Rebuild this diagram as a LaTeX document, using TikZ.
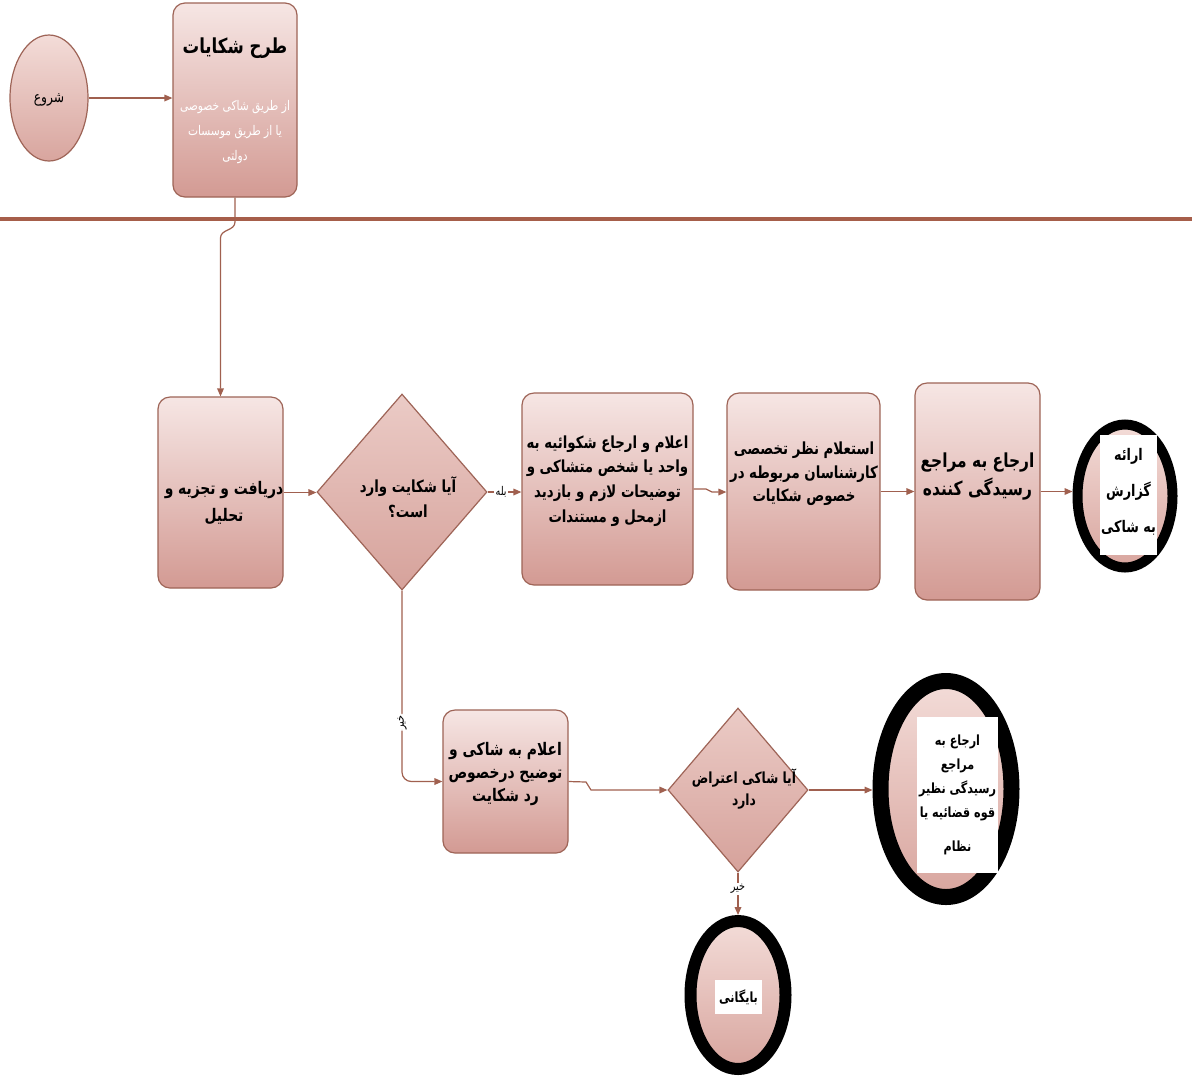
\documentclass[tikz,border=0pt]{standalone}
\usepackage{fontspec}
\usetikzlibrary{shapes.geometric,arrows.meta,calc}
\TeXXeTstate=1
\newfontfamily\arabicfont[Script=Arabic,FakeStretch=0.8]{DejaVu Sans}
\newcommand\fl[1]{\beginR #1\endR}
\definecolor{boxtop}{HTML}{F6E6E4}
\definecolor{boxbot}{HTML}{D39A93}
\definecolor{dtop}{HTML}{EBCBC6}
\definecolor{dbot}{HTML}{D6A29B}
\definecolor{etop}{HTML}{F3DCD8}
\definecolor{ebot}{HTML}{D8A59E}
\definecolor{edge}{HTML}{9E6457}
\definecolor{conn}{HTML}{A0604F}
\definecolor{rulec}{HTML}{A65E4A}
\begin{document}
\begin{tikzpicture}[x=0.75pt,y=-0.75pt,
 procbox/.style={draw=edge, line width=0.9pt, rounded corners=9pt, top color=boxtop, bottom color=boxbot, inner sep=0pt},
 decbox/.style={diamond, draw=edge, line width=0.9pt, top color=dtop, bottom color=dbot, inner sep=0pt},
 endell/.style={ellipse, draw=black, top color=etop, bottom color=ebot, inner sep=0pt},
 whitebox/.style={fill=white, draw=none, inner sep=0pt},
 lbl/.style={align=center, text=black, inner sep=1pt},
 flow/.style={draw=conn, line width=0.9pt, -{Triangle[length=6pt,width=5pt]}},
 link/.style={draw=conn, line width=0.9pt},
 tag/.style={fill=white, inner sep=1pt, text=black, font=\arabicfont\fontsize{9}{10}\selectfont},
]
\useasboundingbox (0,0) rectangle (1192,1083);
\fill[white] (0,0) rectangle (1192,1083);

% divider
\draw[rulec, line width=2.4pt] (0,219) -- (1192,219);

% start
\node[endell, draw=edge, line width=0.9pt, minimum width=58.5pt, minimum height=94.5pt] (S) at (49,98) {};
\node[lbl, font=\arabicfont\fontsize{11.5}{12}\selectfont] (Stxt) at (49,100) {\fl{شروع}};

% title box
\node[procbox, minimum width=93pt, minimum height=145.5pt] (T) at (235,100) {};
\node[lbl, font=\arabicfont\bfseries\fontsize{15.5}{18}\selectfont] (Ttitle) at (235,48) {\fl{طرح شکایات}};
\node[lbl, text=white, font=\arabicfont\fontsize{10}{18.5}\selectfont] (Tsub) at (235,132) {\fl{از طریق شاکی خصوصی}\\\fl{یا از طریق موسسات}\\\fl{دولتی}};

% row 1
\node[procbox, minimum width=93.75pt, minimum height=143.25pt] (R) at (220.5,492.5) {};
\node[lbl, font=\arabicfont\bfseries\fontsize{13}{20}\selectfont] (Rtxt) at (224,503) {\fl{دریافت و تجزیه و}\\\fl{تحلیل}};

\node[decbox, minimum width=127.5pt, minimum height=147pt] (D1) at (402,492) {};
\node[lbl, font=\arabicfont\bfseries\fontsize{12.5}{19}\selectfont] (D1txt) at (408,497) {\fl{آیا شکایت وارد}\\\fl{است؟}};

\node[procbox, minimum width=128.25pt, minimum height=144pt] (A) at (607.5,489) {};
\node[lbl, font=\arabicfont\bfseries\fontsize{12.5}{18.5}\selectfont] (Atxt) at (607.5,481) {\fl{اعلام و ارجاع شکوائیه به}\\\fl{واحد یا شخص متشاکی و}\\\fl{توضیحات لازم و بازدید}\\\fl{ازمحل و مستندات}};

\node[procbox, minimum width=114.75pt, minimum height=147.75pt] (E) at (803.5,491.5) {};
\node[lbl, font=\arabicfont\bfseries\fontsize{12.5}{17.5}\selectfont] (Etxt) at (804,474) {\fl{استعلام نظر تخصصی}\\\fl{کارشناسان مربوطه در}\\\fl{خصوص شکایات}};

\node[procbox, minimum width=93.75pt, minimum height=162.75pt] (M) at (977.5,491.5) {};
\node[lbl, font=\arabicfont\bfseries\fontsize{14.5}{21}\selectfont] (Mtxt) at (977.5,477) {\fl{ارجاع به مراجع}\\\fl{رسیدگی کننده}};

\node[endell, line width=7.5pt, minimum width=71.25pt, minimum height=107.25pt] (G) at (1125,496) {};
\node[whitebox, minimum width=42.75pt, minimum height=90pt] (Gw) at (1128.5,495) {};
\node[lbl, font=\arabicfont\bfseries\fontsize{12}{27}\selectfont] (Gtxt) at (1128.5,492) {\fl{ارائه}\\\fl{گزارش}\\\fl{به شاکی}};

% row 2
\node[procbox, minimum width=93.75pt, minimum height=107.25pt] (N) at (505.5,781.5) {};
\node[lbl, font=\arabicfont\bfseries\fontsize{13}{17.5}\selectfont] (Ntxt) at (505.5,774) {\fl{اعلام به شاکی و}\\\fl{توضیح درخصوص}\\\fl{رد شکایت}};

\node[decbox, minimum width=105pt, minimum height=123pt] (D2) at (738,790) {};
\node[lbl, font=\arabicfont\bfseries\fontsize{11.5}{17}\selectfont] (D2txt) at (744,789) {\fl{آیا شاکی اعتراض}\\\fl{دارد}};

\node[endell, line width=12pt, minimum width=98.25pt, minimum height=162pt] (Q) at (946,789) {};
\node[whitebox, minimum width=60.75pt, minimum height=117pt] (Qw) at (957.5,795) {};
\node[lbl, font=\arabicfont\bfseries\fontsize{10.5}{18}\selectfont] (Qtxt) at (957.5,795) {\fl{ارجاع به}\\\fl{مراجع}\\\fl{رسیدگی نظیر}\\\fl{قوه قضائیه یا}\\[8pt]\fl{نظام}};

\node[endell, line width=9pt, minimum width=71.25pt, minimum height=111pt] (B) at (738,995) {};
\node[whitebox, inner xsep=3pt, inner ysep=7pt, font=\arabicfont\bfseries\fontsize{10.5}{12}\selectfont] (Btxt) at (738.5,997) {\fl{بایگانی}};

% connectors
\draw[flow] (S.east) -- (S.east -| T.west);
\coordinate (hopA) at (220.5,238);
\draw[flow] (T.south) -- (235,222) .. controls (235,231) and (220.5,229) .. (hopA) -- (R.north);
\draw[flow] (R.east) -- (R.east -| D1.west);
\draw[flow] (D1.east) -- (D1.east -| A.west) node[tag, pos=0.4] (yes) {\fl{بله}};
\draw[flow] (A.east) -- (706,489) -- (712,492) -- (E.west |- 0,492);
\draw[flow] (E.east) -- (E.east -| M.west);
\draw[flow] (M.east) -- (M.east -| G.west);
\draw[flow, rounded corners=7pt] (D1.south) |- (N.west) node[tag, pos=0.345, rotate=90] (no1) {\fl{خیر}};
\draw[flow] (N.east) -- (586,782) -- (591,790) -- (D2.west);
\draw[flow] (D2.east) -- (D2.east -| Q.west);
\draw[flow] (D2.south) -- (B.north) node[tag, pos=0.38] (no2) {\fl{خیر}};
\end{tikzpicture}
\end{document}
